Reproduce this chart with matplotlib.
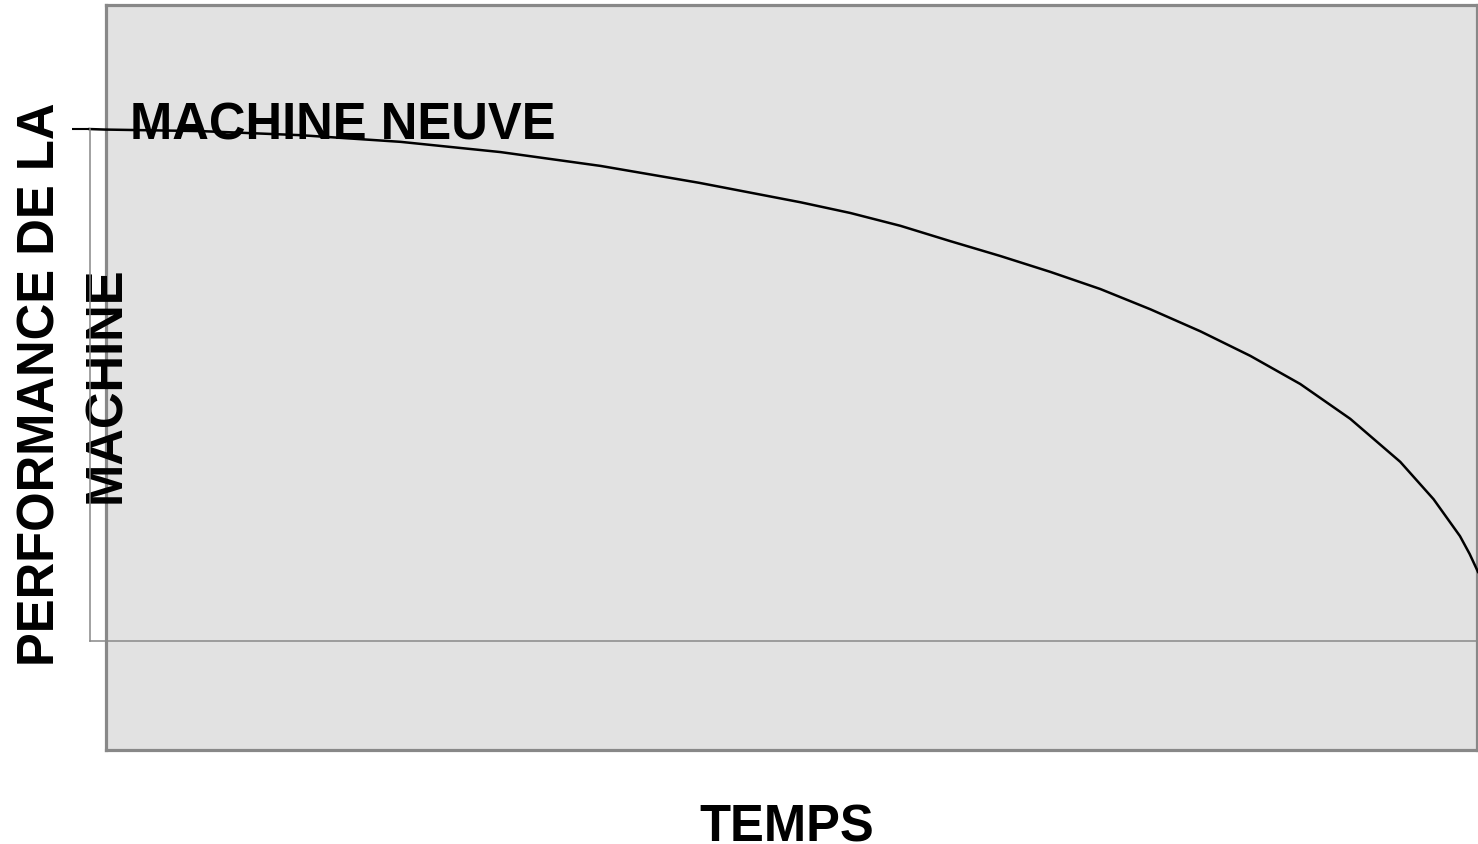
"""Courbe de performance d'une machine dans le temps."""

import matplotlib
matplotlib.use('Agg')
import matplotlib.pyplot as plt

plt.rcParams['font.family'] = ['Liberation Sans', 'DejaVu Sans']

# valeurs (temps en %, performance en %)
temps = [0, 1.1, 8.0, 15.2, 22.4, 29.6, 36.8, 43.9, 51.2, 54.8, 58.4,
         62.0, 65.6, 69.2, 72.8, 76.4, 80.0, 83.6, 87.2, 90.8, 94.4,
         96.8, 98.7, 99.4, 100]
performance = [100, 99.9, 99.6, 98.8, 97.5, 95.5, 92.8, 89.5, 85.7, 83.6,
               81.1, 78.1, 75.2, 72.1, 68.75, 64.8, 60.5, 55.7, 50.2, 43.4,
               35.0, 27.7, 20.5, 17.0, 13.5]
LABEL_X = 'TEMPS'
LABEL_Y = 'PERFORMANCE DE LA\nMACHINE'
ANNOTATION = 'MACHINE NEUVE'

FS = 36.5
GREY = '#888888'

fig = plt.figure(figsize=(14.78, 8.45), dpi=100)

# cadre gris de fond
frame = fig.add_axes([0.0714, 0.1107, 0.9276, 0.8817])
frame.set_facecolor('#e2e2e2')
frame.set_xticks([])
frame.set_yticks([])
for sp in frame.spines.values():
    sp.set_color(GREY)
    sp.set_linewidth(2.3)

ax = fig.add_axes([0.0606, 0.2402, 0.9394, 0.6059])
ax.patch.set_alpha(0)
ax.plot(temps, performance, color='black', lw=1.8, clip_on=False,
        solid_joinstyle='round')
ax.set_xlim(0, 100)
ax.set_ylim(0, 100)
ax.spines['top'].set_visible(False)
ax.spines['right'].set_visible(False)
for side in ('left', 'bottom'):
    ax.spines[side].set_color(GREY)
    ax.spines[side].set_linewidth(1.1)
ax.set_xticks([])
ax.set_yticks([100])
ax.set_yticklabels([])
ax.tick_params(axis='y', length=13, width=1.5, color='black')

ax.text(2.9, 98.2, ANNOTATION, fontsize=FS, fontweight='bold', va='baseline')

ax.set_xlabel(LABEL_X, fontsize=FS, fontweight='bold')
ax.xaxis.set_label_coords(0.502, -0.315)
ax.set_ylabel(LABEL_Y, fontsize=FS, fontweight='bold', linespacing=1.42)
ax.yaxis.set_label_coords(0.0297, 0.503)

fig.savefig('out.png', dpi=100)
